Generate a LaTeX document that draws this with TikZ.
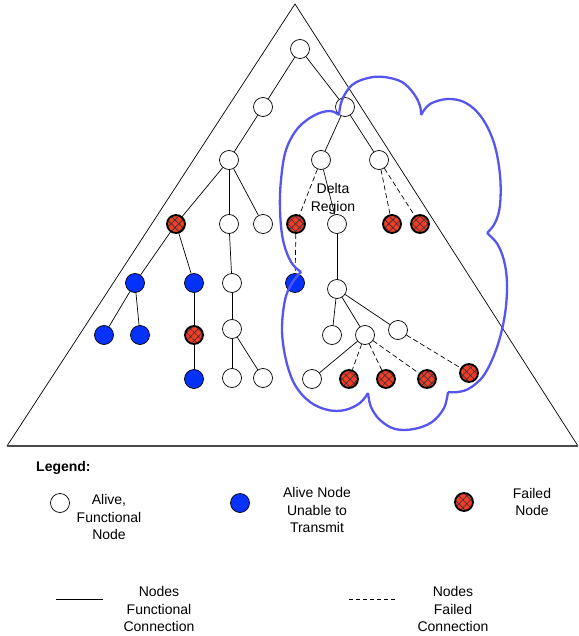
\documentclass[tikz,border=0pt]{standalone}
\usepackage{fontspec}
\setmainfont{Liberation Sans}
\usetikzlibrary{patterns.meta}
\definecolor{nblue}{RGB}{5,50,250}
\definecolor{nred}{RGB}{240,60,40}
\definecolor{cloudblue}{RGB}{85,85,240}
\begin{document}
\begin{tikzpicture}[x=1pt,y=-1pt,
  every node/.style={font=\fontsize{14}{17.5}\selectfont},
  alive/.style={circle,draw,fill=white,minimum size=19pt,inner sep=0pt,line width=0.7pt},
  stuck/.style={circle,draw,fill=nblue,minimum size=19pt,inner sep=0pt,line width=0.7pt},
  failed/.style={circle,draw,line width=1.8pt,minimum size=18pt,inner sep=0pt,
    preaction={fill=nred},pattern={Hatch[angle=45,distance=5.5pt,line width=0.6pt]},pattern color=black!80},
  link/.style={line width=0.7pt},
  flink/.style={line width=0.7pt,dash pattern=on 5pt off 3pt},
  cloudline/.style={draw=cloudblue,line width=2.3pt,line join=round},
  lbl/.style={align=center,inner sep=0pt}]
\useasboundingbox (0,0) rectangle (578,636);
% triangle
\coordinate (ta) at (295,4);
\coordinate (tl) at (7,446);
\coordinate (tr) at (578,446);
\draw[line width=0.7pt] (tl) -- (ta) -- (tr);
\draw[line width=1.6pt,black!70] (tl) -- (tr);
% nodes
\node[alive] (r) at (300,49) {};
\node[alive] (a1) at (263,107) {};
\node[alive] (a2) at (345,107) {};
\node[alive] (b1) at (229,160) {};
\node[alive] (b2) at (321,160) {};
\node[alive] (b3) at (379,160) {};
\node[failed] (c1) at (176,224) {};
\node[alive] (c2) at (229,224) {};
\node[alive] (c3) at (263,224) {};
\node[failed] (c4) at (296,224) {};
\node[alive] (c5) at (337,224) {};
\node[failed] (c6) at (392,224) {};
\node[failed] (c7) at (420,224) {};
\node[stuck] (d1) at (135,283) {};
\node[stuck] (d2) at (194,283) {};
\node[alive] (d3) at (232,283) {};
\node[stuck] (d4) at (295,283) {};
\node[alive] (d5) at (337,289) {};
\node[stuck] (e1) at (104,335) {};
\node[stuck] (e2) at (140,335) {};
\node[failed] (e3) at (194,335) {};
\node[alive] (e4) at (232,329) {};
\node[alive] (e5) at (332,335) {};
\node[alive] (e6) at (365,335) {};
\node[alive] (e7) at (398,330) {};
\node[stuck] (f1) at (194,379) {};
\node[alive] (f2) at (232,378) {};
\node[alive] (f3) at (263,378) {};
\node[alive] (f4) at (312,379) {};
\node[failed] (f5) at (349,379) {};
\node[failed] (f6) at (386,379) {};
\node[failed] (f7) at (427,379) {};
\node[failed] (f8) at (469,373) {};
% edges
\draw[link] (r) -- (a1);
\draw[link] (r) -- (a2);
\draw[link] (a1) -- (b1);
\draw[link] (a2) -- (b2);
\draw[link] (a2) -- (b3);
\draw[link] (b1) -- (c1);
\draw[link] (b1) -- (c2);
\draw[link] (b1) -- (c3);
\draw[flink] (b2) -- (c4);
\draw[link] (b2) -- (c5);
\draw[flink] (b3) -- (c6);
\draw[flink] (b3) -- (c7);
\draw[link] (c1) -- (d1);
\draw[link] (c1) -- (d2);
\draw[link] (c2) -- (d3);
\draw[flink] (c4) -- (d4);
\draw[link] (c5) -- (d5);
\draw[link] (d1) -- (e1);
\draw[link] (d1) -- (e2);
\draw[link] (d2) -- (e3);
\draw[link] (e3) -- (f1);
\draw[link] (d3) -- (e4);
\draw[link] (e4) -- (f2);
\draw[link] (e4) -- (f3);
\draw[link] (d5) -- (e5);
\draw[link] (d5) -- (e6);
\draw[link] (d5) -- (e7);
\draw[link] (e6) -- (f4);
\draw[flink] (e6) -- (f5);
\draw[flink] (e6) -- (f6);
\draw[flink] (e6) -- (f7);
\draw[flink] (e7) -- (f8);
% delta region label
\node[lbl] (delta) at (333,199) {Delta\\Region};
% cloud
\draw[cloudline] plot[smooth,tension=0.6] coordinates {(301,272) (291,262) (283,240) (280,210) (281,180) (286,150) (298,128) (315,115) (330,111) (339,115)};
\draw[cloudline] plot[smooth,tension=0.6] coordinates {(339,115) (342,100) (352,85) (368,78) (384,77) (402,82) (414,94) (420,106) (421,115)};
\draw[cloudline] plot[smooth,tension=0.6] coordinates {(421,115) (430,104) (448,99) (466,103) (482,118) (494,143) (500,175) (500,205) (495,223) (487,233)};
\draw[cloudline] plot[smooth,tension=0.6] coordinates {(487,233) (498,245) (505,265) (507,290) (504,320) (496,350) (484,375) (470,388) (458,392) (448,392)};
\draw[cloudline] plot[smooth,tension=0.6] coordinates {(448,392) (444,408) (432,422) (414,429) (395,429) (380,420) (371,407) (368,393)};
\draw[cloudline] plot[smooth,tension=0.6] coordinates {(368,393) (360,403) (345,410) (328,410) (310,402) (295,385) (286,360) (282,330) (285,300) (292,283) (301,272)};
% legend
\node[lbl,anchor=west,font=\bfseries\fontsize{14}{17.5}\selectfont] (lg) at (36,468) {Legend:};
\node[alive] (la) at (60,503) {};
\node[lbl] (lat) at (109,517) {Alive,\\Functional\\Node};
\node[stuck] (lb) at (240,503) {};
\node[lbl] (lbt) at (317,510) {Alive Node\\Unable to\\Transmit};
\node[failed] (lc) at (464,502) {};
\node[lbl] (lct) at (532,502) {Failed\\Node};
\coordinate (s1) at (56,599);
\coordinate (s2) at (103,599);
\draw[link] (s1) -- (s2);
\node[lbl] (lst) at (159,609) {Nodes\\Functional\\Connection};
\coordinate (q1) at (349,599);
\coordinate (q2) at (396,599);
\draw[flink,dash pattern=on 4pt off 3pt] (q1) -- (q2);
\node[lbl] (lqt) at (453,609) {Nodes\\Failed\\Connection};
\end{tikzpicture}
\end{document}
